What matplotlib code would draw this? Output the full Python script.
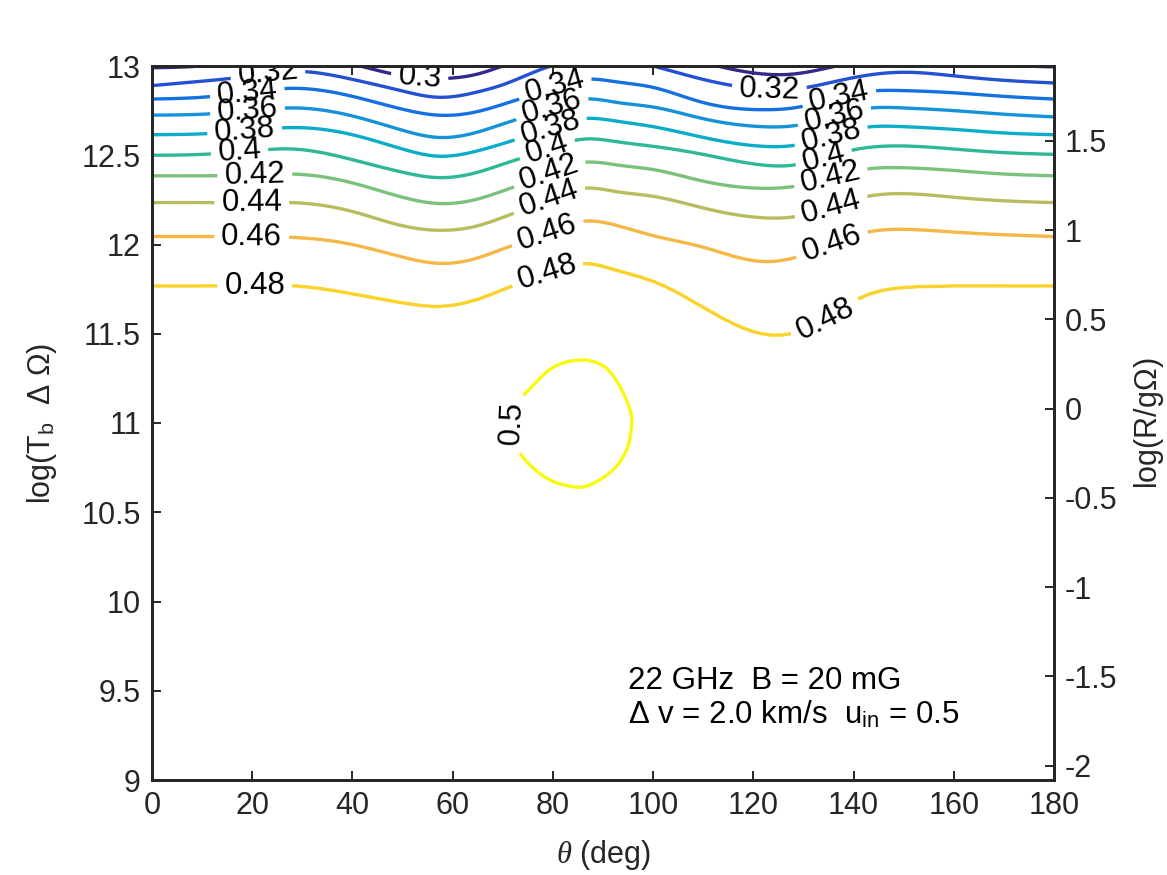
import numpy as np
import matplotlib
matplotlib.use('Agg')
import matplotlib.pyplot as plt
from matplotlib.path import Path

plt.rcParams['font.family'] = ['Liberation Sans', 'DejaVu Sans']
plt.rcParams['mathtext.fontset'] = 'custom'
plt.rcParams['mathtext.rm'] = 'Liberation Sans'
plt.rcParams['mathtext.it'] = 'Liberation Serif:italic'
plt.rcParams['mathtext.bf'] = 'Liberation Sans:bold'
plt.rcParams['axes.unicode_minus'] = False

# ---------------- data ----------------
theta_nodes = [0, 10, 20, 28, 40, 50, 57, 65, 70, 78, 86, 93, 100, 110, 122, 128, 135, 142, 150, 160, 170, 180]
levels = [0.30, 0.32, 0.34, 0.36, 0.38, 0.40, 0.42, 0.44, 0.46, 0.48, 0.50]

# height (log Tb dOmega) of each contour level at theta_nodes
y_030 = [12.99, 13.00, 13.03, 13.05, 13.01, 12.945, 12.93, 12.955, 13.00, 13.07, 13.12, 13.12, 13.09, 13.02, 12.955, 12.955, 12.99, 13.03, 13.05, 13.03, 13.005, 12.995]
y_032 = [12.89, 12.915, 12.945, 12.97, 12.925, 12.86, 12.825, 12.855, 12.895, 12.985, 13.04, 13.04, 13.0, 12.925, 12.87, 12.87, 12.905, 12.945, 12.965, 12.945, 12.92, 12.905]
y_034 = [12.815, 12.825, 12.855, 12.875, 12.83, 12.758, 12.725, 12.745, 12.785, 12.86, 12.925, 12.91, 12.88, 12.795, 12.755, 12.765, 12.81, 12.855, 12.862, 12.85, 12.83, 12.815]
y_036 = [12.725, 12.73, 12.75, 12.765, 12.72, 12.64, 12.60, 12.63, 12.675, 12.75, 12.815, 12.795, 12.77, 12.705, 12.66, 12.665, 12.71, 12.76, 12.765, 12.75, 12.73, 12.715]
y_038 = [12.615, 12.62, 12.64, 12.655, 12.615, 12.535, 12.495, 12.525, 12.565, 12.64, 12.705, 12.69, 12.66, 12.60, 12.55, 12.555, 12.605, 12.655, 12.66, 12.645, 12.625, 12.615]
y_040 = [12.50, 12.505, 12.525, 12.535, 12.475, 12.405, 12.375, 12.405, 12.45, 12.525, 12.59, 12.575, 12.55, 12.505, 12.445, 12.445, 12.495, 12.54, 12.552, 12.535, 12.515, 12.505]
y_042 = [12.385, 12.385, 12.39, 12.395, 12.345, 12.265, 12.23, 12.255, 12.30, 12.385, 12.46, 12.445, 12.42, 12.355, 12.315, 12.325, 12.37, 12.42, 12.43, 12.415, 12.395, 12.385]
y_044 = [12.235, 12.235, 12.235, 12.235, 12.185, 12.105, 12.08, 12.105, 12.152, 12.24, 12.315, 12.295, 12.27, 12.205, 12.15, 12.155, 12.205, 12.265, 12.285, 12.265, 12.245, 12.235]
y_046 = [12.045, 12.045, 12.043, 12.04, 12.0, 11.93, 11.895, 11.925, 11.975, 12.055, 12.13, 12.105, 12.05, 11.985, 11.905, 11.925, 11.995, 12.065, 12.085, 12.07, 12.055, 12.045]
y_048 = [11.768, 11.768, 11.77, 11.77, 11.725, 11.675, 11.655, 11.695, 11.748, 11.835, 11.895, 11.855, 11.795, 11.65, 11.50, 11.505, 11.595, 11.71, 11.76, 11.768, 11.768, 11.768]
level_heights = [y_030, y_032, y_034, y_036, y_038, y_040, y_042, y_044, y_046, y_048]

# closed 0.5 contour (theta, log Tb dOmega)
loop_theta = [71.8, 73.4, 75.8, 78.8, 81.4, 84.1, 87.4, 90.7, 93.4, 95.4, 95.7, 94.7, 92.0, 87.4, 84.1, 79.4, 75.4, 73.1, 72.1]
loop_y = [11.03, 11.13, 11.203, 11.287, 11.33, 11.349, 11.349, 11.306, 11.203, 11.073, 10.979, 10.849, 10.737, 10.653, 10.643, 10.681, 10.765, 10.849, 10.94]

level_colors = ['#33298a', '#2450d2', '#1570e0', '#1592d8', '#0bacc8', '#2eb799',
                '#7bc17c', '#b7bd5e', '#f3b847', '#f9d22a', '#f9f90f']

xticks = [0, 20, 40, 60, 80, 100, 120, 140, 160, 180]
yticks = [9, 9.5, 10, 10.5, 11, 11.5, 12, 12.5, 13]
rticks = [-2, -1.5, -1, -0.5, 0, 0.5, 1, 1.5]
r_offset = 11.08

label_pos = [
    (23.1, 12.965), (19.1, 12.83), (19.1, 12.735), (18.5, 12.63), (17.5, 12.51),
    (20.5, 12.39), (19.9, 12.235), (19.9, 12.043), (20.5, 11.77),
    (53.4, 12.935), (80.5, 12.875), (79.8, 12.77), (79.5, 12.655), (78.8, 12.54),
    (79.3, 12.40), (79.3, 12.25), (78.9, 12.07), (78.9, 11.84),
    (123.2, 12.87), (137.1, 12.83), (136.1, 12.725), (135.5, 12.61), (134.1, 12.48),
    (135.5, 12.37), (135.5, 12.215), (135.7, 12.0), (134.1, 11.6),
    (72.4, 11.0),
]

# ---------------- helpers ----------------
def natural_spline(x, y, xq):
    x = np.asarray(x, float); y = np.asarray(y, float)
    n = len(x)
    h = np.diff(x)
    A = np.zeros((n, n)); b = np.zeros(n)
    A[0, 0] = 1; A[-1, -1] = 1
    for i in range(1, n - 1):
        A[i, i - 1] = h[i - 1]; A[i, i] = 2 * (h[i - 1] + h[i]); A[i, i + 1] = h[i]
        b[i] = 3 * ((y[i + 1] - y[i]) / h[i] - (y[i] - y[i - 1]) / h[i - 1])
    c = np.linalg.solve(A, b)
    bb = (y[1:] - y[:-1]) / h - h * (2 * c[:-1] + c[1:]) / 3
    d = (c[1:] - c[:-1]) / (3 * h)
    idx = np.clip(np.searchsorted(x, xq) - 1, 0, n - 2)
    dx = xq - x[idx]
    return y[idx] + bb[idx] * dx + c[idx] * dx ** 2 + d[idx] * dx ** 3

th = np.linspace(0, 180, 721)
yy = np.linspace(8.9, 13.3, 1101)
curves = [natural_spline(theta_nodes, hs, th) for hs in level_heights]

Z = np.empty((len(yy), len(th)))
for j in range(len(th)):
    ky = [8.9] + [curves[k][j] for k in range(len(curves) - 1, -1, -1)] + [curves[0][j] + 0.12]
    kz = [0.49] + [levels[k] for k in range(len(curves) - 1, -1, -1)] + [0.28]
    Z[:, j] = np.interp(yy, ky, kz)

# bump field whose 0.5 level is the closed loop
s = (902.0 / 180.0) / 178.5
P = np.column_stack([np.array(loop_theta) * s, np.array(loop_y)])
pts = []
n = len(P)
for i in range(n):
    p0, p1, p2, p3 = P[i - 1], P[i], P[(i + 1) % n], P[(i + 2) % n]
    for t in np.linspace(0, 1, 10, endpoint=False):
        pts.append(0.5 * ((2 * p1) + (-p0 + p2) * t + (2 * p0 - 5 * p1 + 4 * p2 - p3) * t ** 2
                          + (-p0 + 3 * p1 - 3 * p2 + p3) * t ** 3))
pts = np.array(pts)
TT, YY = np.meshgrid(th, yy)
mask = (TT > 55) & (TT < 115) & (YY > 10.2) & (YY < 11.8)
qx = TT[mask] * s; qy = YY[mask]
dmin = np.full(qx.shape, np.inf)
for i in range(len(pts)):
    a = pts[i]; bpt = pts[(i + 1) % len(pts)]
    ab = bpt - a
    L2 = ab @ ab
    tt = np.clip(((qx - a[0]) * ab[0] + (qy - a[1]) * ab[1]) / L2, 0, 1)
    dx = qx - (a[0] + tt * ab[0]); dy = qy - (a[1] + tt * ab[1])
    dmin = np.minimum(dmin, np.hypot(dx, dy))
inside = Path(pts).contains_points(np.column_stack([qx, qy]))
sd = np.where(inside, dmin, -dmin)
bump = np.full(Z.shape, 0.0)
bump[mask] = 0.5 + 0.1 * sd
Z = np.maximum(Z, bump)

# ---------------- figure ----------------
fig = plt.figure(figsize=(11.67, 8.75), dpi=100)
L, R, T, B = 152, 1054, 66, 780
ax = fig.add_axes([L / 1167, (875 - B) / 875, (R - L) / 1167, (B - T) / 875])

axis_col = '#262626'
fs_tick = 22
fs_lab = 22.5

cs = ax.contour(th, yy, Z, levels=levels, colors=level_colors, linewidths=2.4)
ax.clabel(cs, inline=True, fmt=lambda v: f'{v:g}', fontsize=fs_lab, manual=label_pos,
          inline_spacing=7, colors='black')

ax.set_xlim(0, 180)
ax.set_ylim(9, 13)
ax.set_xticks(xticks)
ax.set_yticks(yticks)
ax.set_yticklabels([f'{v:g}' for v in yticks])
ax.tick_params(axis='both', direction='in', length=6.5, width=1.4, colors=axis_col,
               labelsize=fs_tick, pad=8, top=True, right=False)
for sp in ax.spines.values():
    sp.set_linewidth(2.0)
    sp.set_color(axis_col)

ax.set_xlabel(r'$\theta$ (deg)', fontsize=fs_tick, color=axis_col, labelpad=12)
ax.set_ylabel(r'log(T$_{\rm b}$  Δ $\mathit{\Omega}$)', fontsize=fs_tick, color=axis_col, labelpad=16)

ax.text(94.9, 9.51, '22 GHz  B = 20 mG', fontsize=fs_lab, color='black', va='baseline')
ax.text(94.9, 9.314, r'Δ v = 2.0 km/s  u$_{\rm in}$ = 0.5', fontsize=fs_lab, color='black', va='baseline')

ax2 = ax.twinx()
ax2.set_ylim(9 - r_offset, 13 - r_offset)
ax2.set_yticks(rticks)
ax2.set_yticklabels([f'{v:g}' for v in rticks])
ax2.tick_params(axis='y', direction='in', length=6.5, width=1.4, colors=axis_col,
                labelsize=fs_tick, pad=8)
for sp in ax2.spines.values():
    sp.set_linewidth(2.0)
    sp.set_color(axis_col)
ax2.set_ylabel(r'log(R/g$\mathit{\Omega}$)', fontsize=fs_tick, color=axis_col, labelpad=10)

fig.savefig('out.png', dpi=100, facecolor='white')
